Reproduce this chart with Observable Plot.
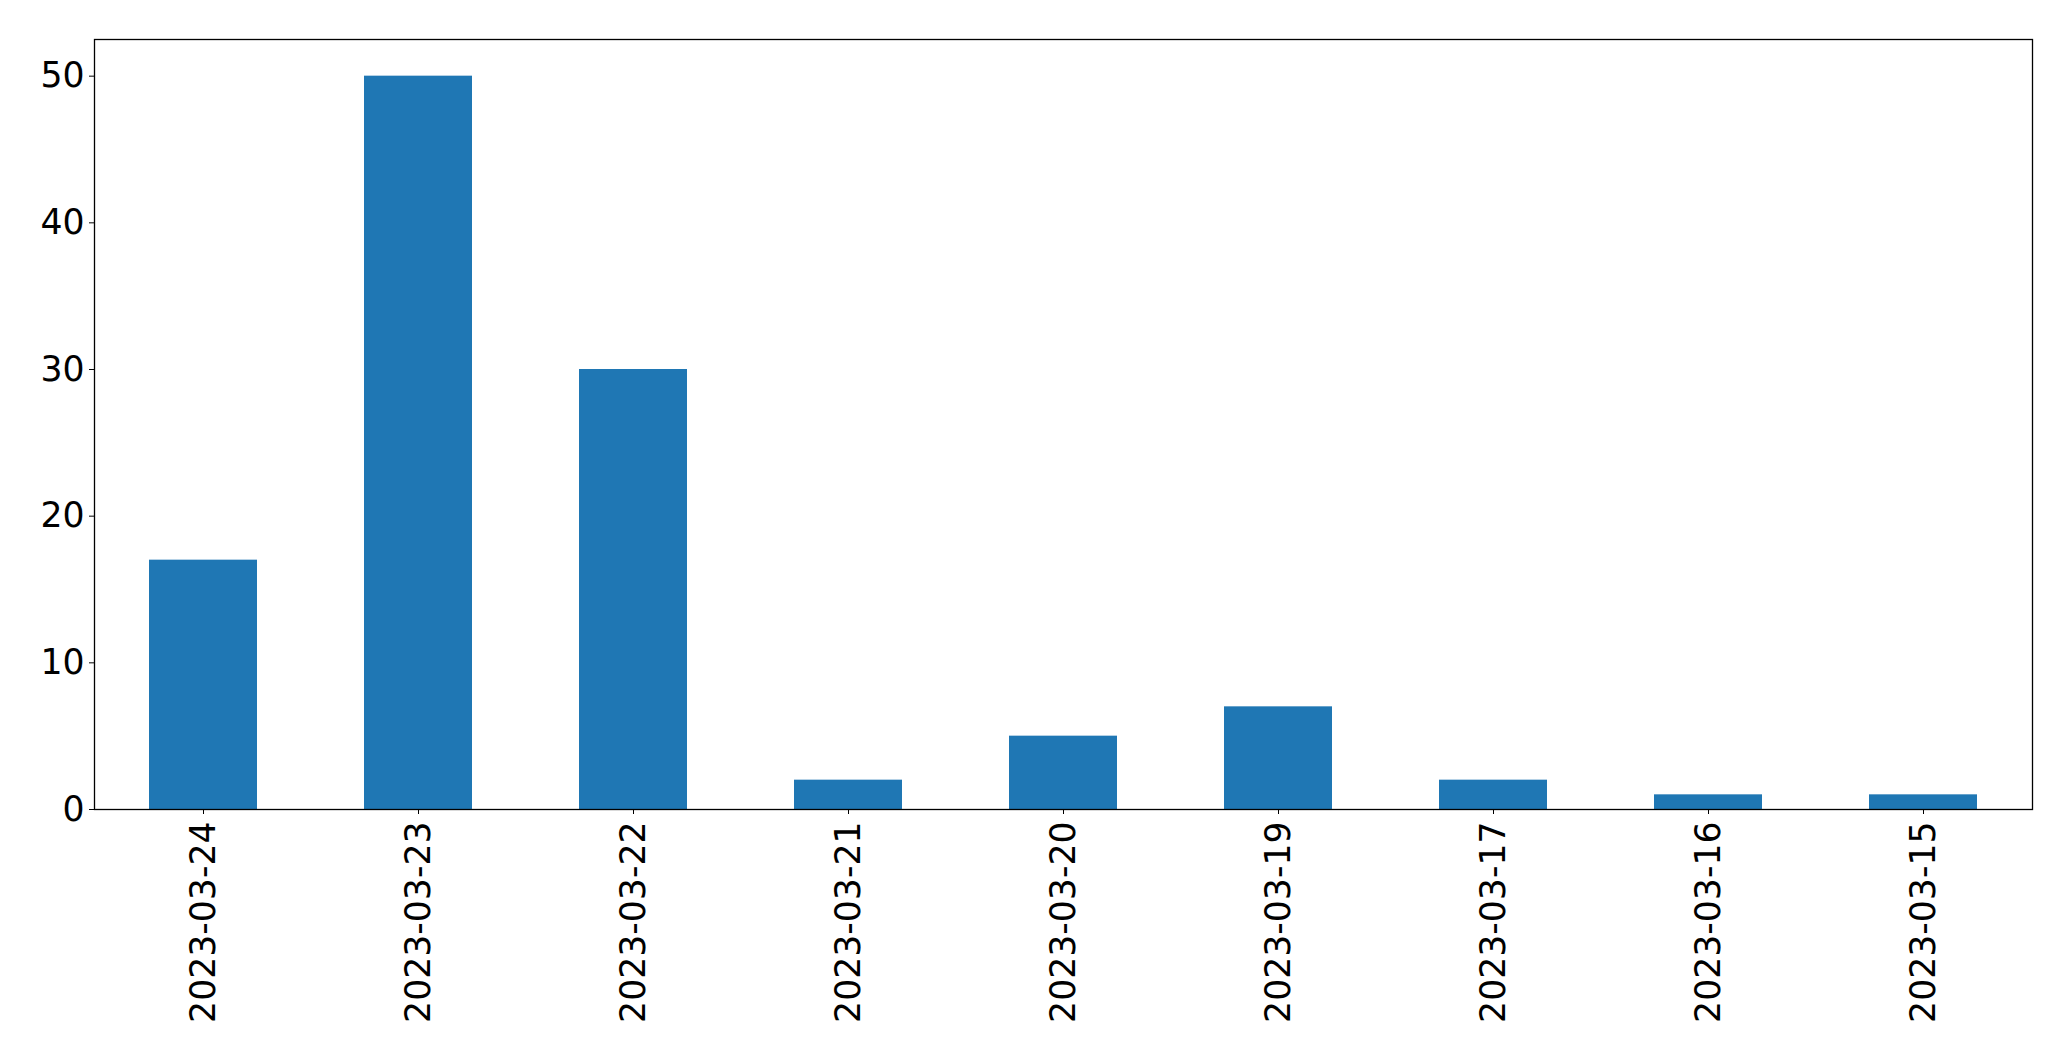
<!DOCTYPE html>
<html>
<head>
<meta charset="utf-8">
<script src="https://cdn.jsdelivr.net/npm/d3@7"></script>
<script src="https://cdn.jsdelivr.net/npm/@observablehq/plot@0.6"></script>
<style>
  html, body { margin: 0; padding: 0; background: #fff; }
  #chart svg text { font-size: 34.67px !important; font-family: "DejaVu Sans", sans-serif; fill: #000; }
</style>
</head>
<body>
<div id="chart"></div>
<script>
const dates = ["2023-03-24", "2023-03-23", "2023-03-22", "2023-03-21", "2023-03-20", "2023-03-19", "2023-03-17", "2023-03-16", "2023-03-15"];
const counts = [17, 50, 30, 2, 5, 7, 2, 1, 1];
const yTicks = [0, 10, 20, 30, 40, 50];

const data = dates.map((d, i) => ({date: d, count: counts[i]}));

const chart = Plot.plot({
  width: 2071,
  height: 1061,
  marginLeft: 94,
  marginRight: 39,
  marginTop: 39,
  marginBottom: 252,
  style: {fontFamily: "DejaVu Sans", fontSize: "34.67px", color: "#000", background: "#fff"},
  x: {domain: dates, paddingInner: 0.5, paddingOuter: 0.25, align: 0.5, label: null},
  y: {domain: [0, 52.5], label: null},
  marks: [
    Plot.barY(data, {x: "date", y: "count", fill: "#1f77b4"}),
    Plot.frame({stroke: "#000", strokeWidth: 1.3}),
    Plot.axisY({ticks: yTicks, tickSize: 5, tickPadding: 5, label: null, fontSize: 34.67}),
    Plot.axisX({tickSize: 5, tickPadding: 7, tickRotate: -90, label: null, fontSize: 34.67})
  ]
});
document.getElementById("chart").appendChild(chart);
</script>
</body>
</html>
